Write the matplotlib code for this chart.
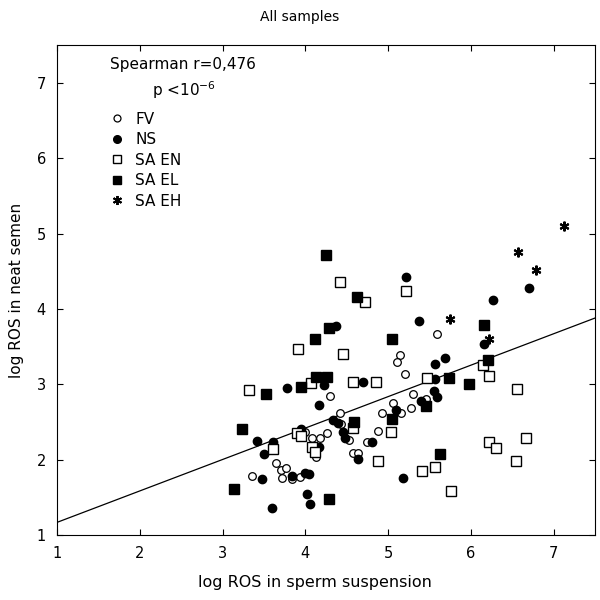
import matplotlib
matplotlib.use("Agg")
import matplotlib.pyplot as plt
from matplotlib.lines import Line2D
import numpy as np

plt.rcParams['font.family'] = ['DejaVu Sans']

# ---- data (log ROS in sperm suspension, log ROS in neat semen) ----
fv_x = [4.30, 4.42, 4.43, 4.53, 4.26, 4.18, 4.08, 4.13, 4.00, 4.57, 4.64, 4.74, 4.88, 4.93,
        5.06, 5.16, 5.27, 5.30, 5.46, 5.59, 5.14, 5.11, 5.20, 3.64, 3.70, 3.76, 3.36, 3.72,
        3.84, 3.94]
fv_y = [2.85, 2.62, 2.47, 2.26, 2.35, 2.29, 2.29, 2.04, 2.37, 2.09, 2.09, 2.24, 2.38, 2.62,
        2.75, 2.62, 2.69, 2.87, 2.81, 3.67, 3.39, 3.30, 3.14, 1.96, 1.86, 1.89, 1.78, 1.76,
        1.74, 1.77]

ns_x = [4.37, 5.22, 5.37, 5.69, 5.57, 5.57, 4.22, 4.69, 4.17, 4.33, 4.39, 4.46, 4.48, 4.16,
        4.63, 4.81, 5.18, 5.10, 5.40, 5.55, 5.59, 6.70, 6.26, 6.16, 3.78, 3.42, 3.61, 3.50,
        3.95, 3.48, 3.84, 3.99, 4.04, 3.60, 4.02, 4.06]
ns_y = [3.78, 4.43, 3.84, 3.35, 3.27, 3.07, 2.99, 3.03, 2.73, 2.53, 2.49, 2.37, 2.29, 2.17,
        2.01, 2.24, 1.76, 2.66, 2.78, 2.91, 2.83, 4.28, 4.12, 3.54, 2.95, 2.25, 2.24, 2.08,
        2.41, 1.74, 1.78, 1.82, 1.81, 1.36, 1.54, 1.41]

saen_x = [4.42, 4.72, 5.22, 3.91, 4.46, 4.07, 4.58, 4.85, 5.47, 6.15, 6.22, 6.55, 6.22, 6.30,
          6.67, 6.54, 5.76, 4.58, 5.03, 4.88, 5.41, 5.56, 3.32, 3.90, 3.95, 3.61, 4.08, 4.11]
saen_y = [4.36, 4.09, 4.24, 3.47, 3.40, 3.02, 3.03, 3.03, 3.09, 3.26, 3.11, 2.94, 2.24, 2.16,
          2.29, 1.98, 1.58, 2.42, 2.37, 1.98, 1.85, 1.90, 2.93, 2.35, 2.31, 2.14, 2.17, 2.10]

sael_x = [4.25, 4.62, 4.28, 4.12, 5.04, 4.13, 4.26, 3.95, 3.52, 5.74, 6.16, 6.21, 5.98, 4.59,
          5.04, 5.46, 5.63, 3.24, 3.14, 4.29]
sael_y = [4.72, 4.16, 3.75, 3.60, 3.60, 3.10, 3.10, 2.97, 2.87, 3.08, 3.79, 3.32, 3.01, 2.50,
          2.54, 2.71, 2.08, 2.41, 1.61, 1.48]

saeh_x = [7.12, 6.57, 6.79, 5.75, 6.22]
saeh_y = [5.10, 4.75, 4.51, 3.87, 3.60]

fit_intercept = 0.753
fit_slope = 0.417

x_ticks = [1, 2, 3, 4, 5, 6, 7]
y_ticks = [1, 2, 3, 4, 5, 6, 7]

# ---- figure ----
fig = plt.figure(figsize=(6, 6), dpi=100)
ax = fig.add_axes([0.095, 0.108, 0.897, 0.817])

ax.set_xlim(1, 7.5)
ax.set_ylim(1, 7.5)

xl = np.array([1, 7.5])
ax.plot(xl, fit_intercept + fit_slope * xl, color='black', lw=0.9, zorder=1)

ax.plot(fv_x, fv_y, 'o', ls='none', ms=5.5, mfc='white', mec='black', mew=0.9, zorder=3)
ax.plot(ns_x, ns_y, 'o', ls='none', ms=6, mfc='black', mec='black', zorder=3)
ax.plot(saen_x, saen_y, 's', ls='none', ms=6.5, mfc='white', mec='black', mew=1.0, zorder=3)
ax.plot(sael_x, sael_y, 's', ls='none', ms=7, mfc='black', mec='black', zorder=3)
ax.plot(saeh_x, saeh_y, marker=(6, 2, 0), ls='none', ms=7, mec='black', mew=1.5, zorder=3)

ax.set_xticks(x_ticks)
ax.set_yticks(y_ticks)
ax.tick_params(direction='in', length=4, top=True, right=True, labelsize=10.5, pad=8)

ax.set_xlabel('log ROS in sperm suspension', fontsize=11.5, labelpad=10)
ax.xaxis.label.set_x(0.48)
ax.set_ylabel('log ROS in neat semen', fontsize=11, labelpad=9)
fig.text(0.5, 0.972, 'All samples', ha='center', va='center', fontsize=10)

ax.text(0.234, 0.961, 'Spearman r=0,476', transform=ax.transAxes, ha='center', va='center', fontsize=11)
ax.text(0.236, 0.907, 'p <10$^{-6}$', transform=ax.transAxes, ha='center', va='center', fontsize=11)

handles = [
    Line2D([], [], marker='o', ls='none', ms=5, mfc='white', mec='black', mew=0.9),
    Line2D([], [], marker='o', ls='none', ms=5.5, mfc='black', mec='black'),
    Line2D([], [], marker='s', ls='none', ms=6, mfc='white', mec='black'),
    Line2D([], [], marker='s', ls='none', ms=6, mfc='black', mec='black'),
    Line2D([], [], marker=(6, 2, 0), ls='none', ms=6.5, mec='black', mew=1.4),
]
labels = ['FV', 'NS', 'SA EN', 'SA EL', 'SA EH']
ax.legend(handles, labels, loc='upper left', bbox_to_anchor=(0.101, 0.864), frameon=False,
          fontsize=11, handlelength=0.8, handletextpad=0.75, labelspacing=0.36,
          borderaxespad=0, borderpad=0)

fig.savefig('out.png', dpi=100)
